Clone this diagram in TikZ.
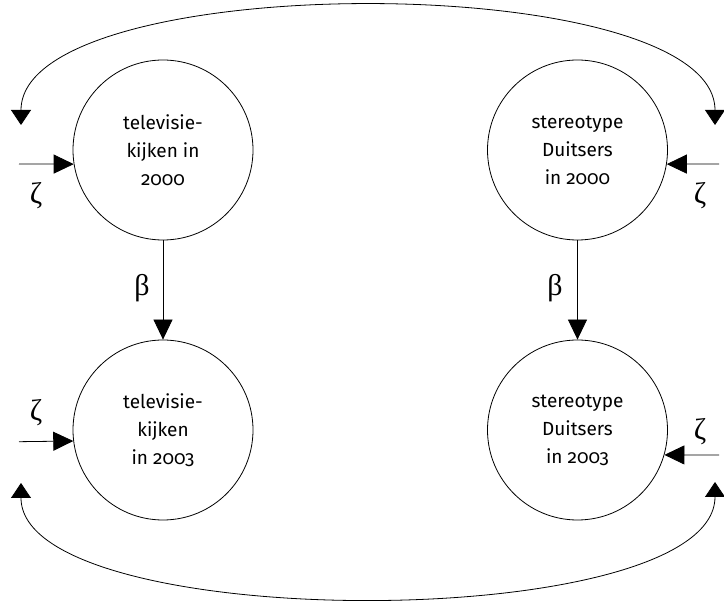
\documentclass[tikz,border=0pt]{standalone}
\usepackage{fontspec}
\setmainfont{Liberation Serif}
\newfontfamily\lblfont[Numbers=OldStyle]{Fira Sans}
\usetikzlibrary{arrows.meta}
\begin{document}
\begin{tikzpicture}[x=1pt,y=-1pt,
  var/.style={circle,draw,line width=0.8pt,minimum size=180pt,inner sep=0pt,align=center,
    font=\lblfont\fontsize{19}{28}\selectfont},
  greek/.style={font=\fontsize{30}{34}\selectfont,inner sep=0pt},
  effect/.style={line width=0.8pt,-{Triangle[length=20pt,width=19pt]}},
  cov/.style={line width=0.8pt,{Triangle[length=15pt,width=20pt]}-{Triangle[length=15pt,width=20pt]}}]
\useasboundingbox (0,0) rectangle (724,601);
\node[var] (tv00) at (163,150) {televisie-\\kijken in\\2000};
\node[var] (sd00) at (577.5,150) {stereotype\\Duitsers\\in 2000};
\node[var] (tv03) at (163,430) {televisie-\\kijken\\in 2003};
\node[var] (sd03) at (577.5,430) {stereotype\\Duitsers\\in 2003};
% structural paths
\draw[effect] (tv00.south) -- (tv03.north);
\draw[effect] (sd00.south) -- (sd03.north);
\node[greek] (b1) at (142,288) {β};
\node[greek] (b2) at (555,288) {β};
% disturbances
\coordinate (z1s) at (19,164);
\coordinate (z2s) at (719,164);
\coordinate (z3s) at (19,441.7);
\coordinate (z4s) at (719,455);
\draw[effect] (z1s) -- (tv00.189);
\draw[effect] (z2s) -- (sd00.351);
\draw[effect] (z3s) -- (tv03.187.5);
\draw[effect] (z4s) -- (sd03.344);
\node[greek] (z1) at (36,196) {ζ};
\node[greek] (z2) at (700,196) {ζ};
\node[greek] (z3) at (36,413) {ζ};
\node[greek] (z4) at (700,432) {ζ};
% covariances
\coordinate (tl) at (21,125);
\coordinate (tr) at (715,125);
\coordinate (bl) at (21,483);
\coordinate (br) at (715,482);
\draw[cov] (tl) .. controls (21,-32) and (715,-32) .. (tr);
\draw[cov] (bl) .. controls (21,635) and (715,635) .. (br);
\end{tikzpicture}
\end{document}
